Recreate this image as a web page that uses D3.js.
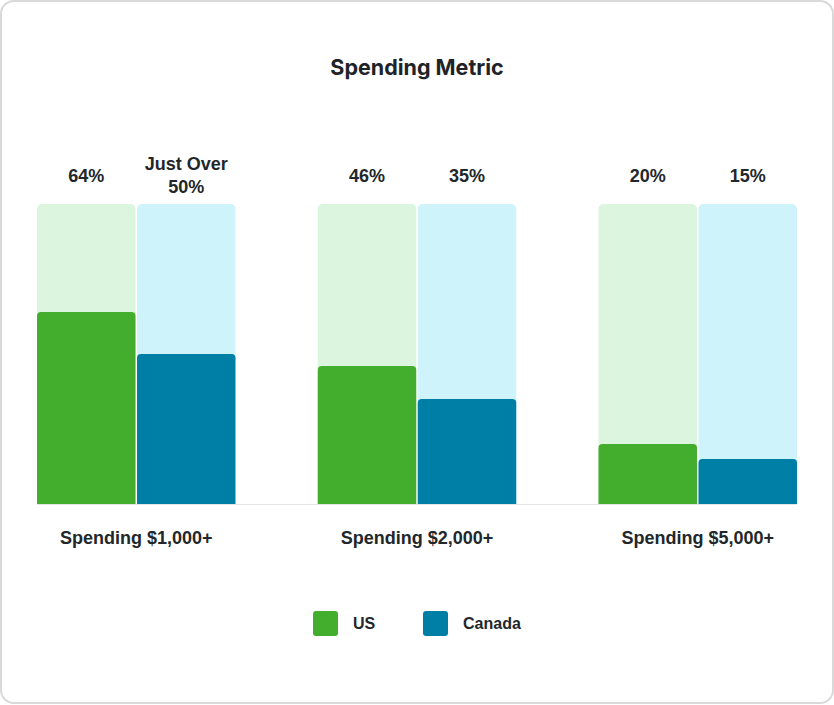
<!DOCTYPE html>
<html lang="en">
<head>
  <meta charset="UTF-8">
  <title>Spending Metric</title>
  <script src="https://cdn.jsdelivr.net/npm/d3@7"></script>
  <style>
    html, body { margin: 0; padding: 0; background: #fff; }
    svg { display: block; }
  </style>
</head>
<body>
<script>
  const categories = ["Spending $1,000+", "Spending $2,000+", "Spending $5,000+"];
  const series = ["US", "Canada"];
  const usValues = [64, 46, 20];
  const canadaValues = [50, 35, 15];
  const usLabels = ["64%", "46%", "20%"];
  const canadaLabels = ["Just Over\n50%", "35%", "15%"];

  const colors = { US: "#43ae2d", Canada: "#007fa6" };
  const bgColors = { US: "#dbf5de", Canada: "#cef3fb" };

  const width = 834, height = 705;
  const svg = d3.select("body").append("svg")
    .attr("width", width).attr("height", height);

  // card
  svg.append("rect")
    .attr("x", 1).attr("y", 1).attr("width", width - 2).attr("height", height - 3)
    .attr("rx", 13).attr("fill", "#fff")
    .attr("stroke", "#d9d9d9").attr("stroke-width", 2);

  svg.append("text")
    .attr("x", 417).attr("y", 75)
    .attr("text-anchor", "middle")
    .style("font-family", "Inter, Roboto, sans-serif")
    .style("font-weight", 700).style("font-size", "21.5px")
    .attr("fill", "#1f2328")
    .text("Spending Metric");

  const x = d3.scaleBand().domain(categories).range([37, 797]).paddingInner(0.293).paddingOuter(0);
  const xs = d3.scaleBand().domain(series).range([0, x.bandwidth()]).paddingInner(0.015);
  const y = d3.scaleLinear().domain([0, 100]).range([504, 204]);

  const rows = categories.map((c, i) => ({
    cat: c,
    bars: [
      { s: "US", v: usValues[i], label: usLabels[i] },
      { s: "Canada", v: canadaValues[i], label: canadaLabels[i] }
    ]
  }));

  function topRounded(x0, y0, w, h, r) {
    const p = d3.path();
    p.moveTo(x0, y0 + h);
    p.lineTo(x0, y0 + r);
    p.arcTo(x0, y0, x0 + r, y0, r);
    p.lineTo(x0 + w - r, y0);
    p.arcTo(x0 + w, y0, x0 + w, y0 + r, r);
    p.lineTo(x0 + w, y0 + h);
    p.closePath();
    return p.toString();
  }

  // baseline
  svg.append("line")
    .attr("x1", 37).attr("x2", 797)
    .attr("y1", y(0) + 0.5).attr("y2", y(0) + 0.5)
    .attr("stroke", "#e6e6e6").attr("stroke-width", 1);

  const g = svg.selectAll("g.group").data(rows).enter().append("g")
    .attr("class", "group")
    .attr("transform", d => `translate(${x(d.cat)},0)`);

  const bar = g.selectAll("g.bar").data(d => d.bars).enter().append("g").attr("class", "bar");

  bar.append("path")
    .attr("d", d => topRounded(xs(d.s), y(100), xs.bandwidth(), y(0) - y(100), 5))
    .attr("fill", d => bgColors[d.s]);

  bar.append("path")
    .attr("d", d => topRounded(xs(d.s), y(d.v), xs.bandwidth(), y(0) - y(d.v), 4))
    .attr("fill", d => colors[d.s]);

  const lbl = bar.append("text")
    .attr("text-anchor", "middle")
    .style("font-family", "'Liberation Sans', Arial, sans-serif")
    .style("font-weight", 700).style("font-size", "18px")
    .attr("fill", "#22272b");

  lbl.each(function(d) {
    const lines = d.label.split("\n");
    const cx = xs(d.s) + xs.bandwidth() / 2;
    const y0 = lines.length > 1 ? 170 : 182;
    lines.forEach((t, k) => {
      d3.select(this).append("tspan")
        .attr("x", cx).attr("y", y0 + k * 23).text(t);
    });
  });

  g.append("text")
    .attr("x", x.bandwidth() / 2).attr("y", 544)
    .attr("text-anchor", "middle")
    .style("font-family", "'Liberation Sans', Arial, sans-serif")
    .style("font-weight", 700).style("font-size", "18px")
    .attr("fill", "#22272b")
    .text(d => d.cat);

  // legend
  const legendX = [313, 423];
  const leg = svg.selectAll("g.legend").data(series).enter().append("g")
    .attr("class", "legend")
    .attr("transform", (d, i) => `translate(${legendX[i]},611)`);
  leg.append("rect")
    .attr("width", 25).attr("height", 25).attr("rx", 3)
    .attr("fill", d => colors[d]);
  leg.append("text")
    .attr("x", 40).attr("y", 18)
    .style("font-family", "'Liberation Sans', Arial, sans-serif")
    .style("font-weight", 700).style("font-size", "16px")
    .attr("fill", "#22272b")
    .text(d => d);
</script>
</body>
</html>
